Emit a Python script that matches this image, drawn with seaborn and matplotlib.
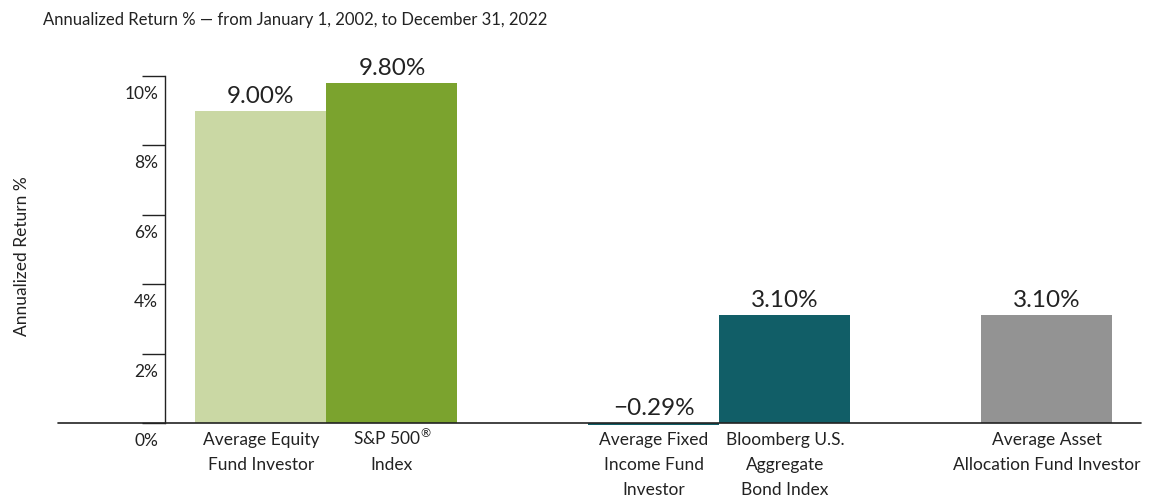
import matplotlib
matplotlib.use("Agg")
import matplotlib.pyplot as plt
import matplotlib.transforms as mtrans
import seaborn as sns
import pandas as pd

# data
categories = [
    "Average Equity\nFund Investor",
    "S&P 500$^{\u00AE}$\nIndex",
    "Average Fixed\nIncome Fund\nInvestor",
    "Bloomberg U.S.\nAggregate\nBond Index",
    "Average Asset\nAllocation Fund Investor",
]
returns = [9.00, 9.80, -0.29, 3.10, 3.10]
y_ticks = [0, 2, 4, 6, 8, 10]

# layout: blank slots separate the groups
slot_order = [categories[0], categories[1], "", categories[2], categories[3], " ", categories[4]]
bar_colors = ["#CAD8A4", "#7BA32E", "#115E67", "#115E67", "#939393"]

sns.set_theme(style="white")
plt.rcParams["font.family"] = ["Lato", "DejaVu Sans"]
plt.rcParams["mathtext.default"] = "regular"
plt.rcParams["text.color"] = "#222222"

df = pd.DataFrame({"Category": categories, "Return": returns})

fig = plt.figure(figsize=(11.52, 5.01), dpi=100)
ax = fig.add_axes([0.1432, 0.1515, 0.8473, 0.6968])

sns.barplot(data=df, x="Category", y="Return", hue="Category", order=slot_order,
            palette=dict(zip(categories, bar_colors)), saturation=1, width=1,
            errorbar=None, legend=False, linewidth=0, ax=ax)

ax.set_xlim(-0.733, 6.718)
ax.set_ylim(-0.06, 10)
ax.set_xlabel("")
ax.set_ylabel("")

for s in ["top", "right", "bottom"]:
    ax.spines[s].set_visible(False)
ax.spines["left"].set_bounds(0, 10)
ax.spines["left"].set_color("#222222")
ax.spines["left"].set_linewidth(1.0)

ax.axhline(0, xmin=-0.11, xmax=1, color="#222222", lw=1.2, clip_on=False, zorder=5)

# y ticks: marks to the left, labels hanging below each mark
ax.set_yticks(y_ticks)
ax.tick_params(axis="y", direction="out", length=16.5, width=1.0, color="#222222",
               labelleft=False, left=True)
for t in y_ticks:
    ax.annotate(f"{t}%", xy=(0, t), xycoords=("axes fraction", "data"),
                xytext=(-5, -13), textcoords="offset points",
                ha="right", va="center", fontsize=12.5, color="#222222",
                annotation_clip=False)

ax.tick_params(axis="x", length=0, pad=5, labelsize=12.5, colors="#222222")
for lbl in ax.get_xticklabels():
    lbl.set_linespacing(1.7)
    if "500" in lbl.get_text():
        # superscript makes the first line taller; nudge it back up
        lbl.set_transform(lbl.get_transform() +
                          mtrans.ScaledTranslation(0, 3 / 72, fig.dpi_scale_trans))

# value labels above each bar (negative label sits on the zero line)
for cat, val in zip(categories, returns):
    x = slot_order.index(cat)
    txt = f"{val:.2f}%".replace("-", "\u2212")
    ax.annotate(txt, xy=(x, max(val, 0)), xytext=(0, 3), textcoords="offset points",
                ha="center", va="bottom", fontsize=17.5, color="#222222",
                annotation_clip=False)

fig.text(22 / 1152, (501 - 256) / 501, "Annualized Return %", rotation=90,
         ha="center", va="center", fontsize=12.5, color="#222222")
fig.text(43 / 1152, (501 - 20) / 501,
         "Annualized Return % \u2014 from January 1, 2002, to December 31, 2022",
         ha="left", va="center", fontsize=12, color="#222222")

fig.savefig("out.png", dpi=100)
